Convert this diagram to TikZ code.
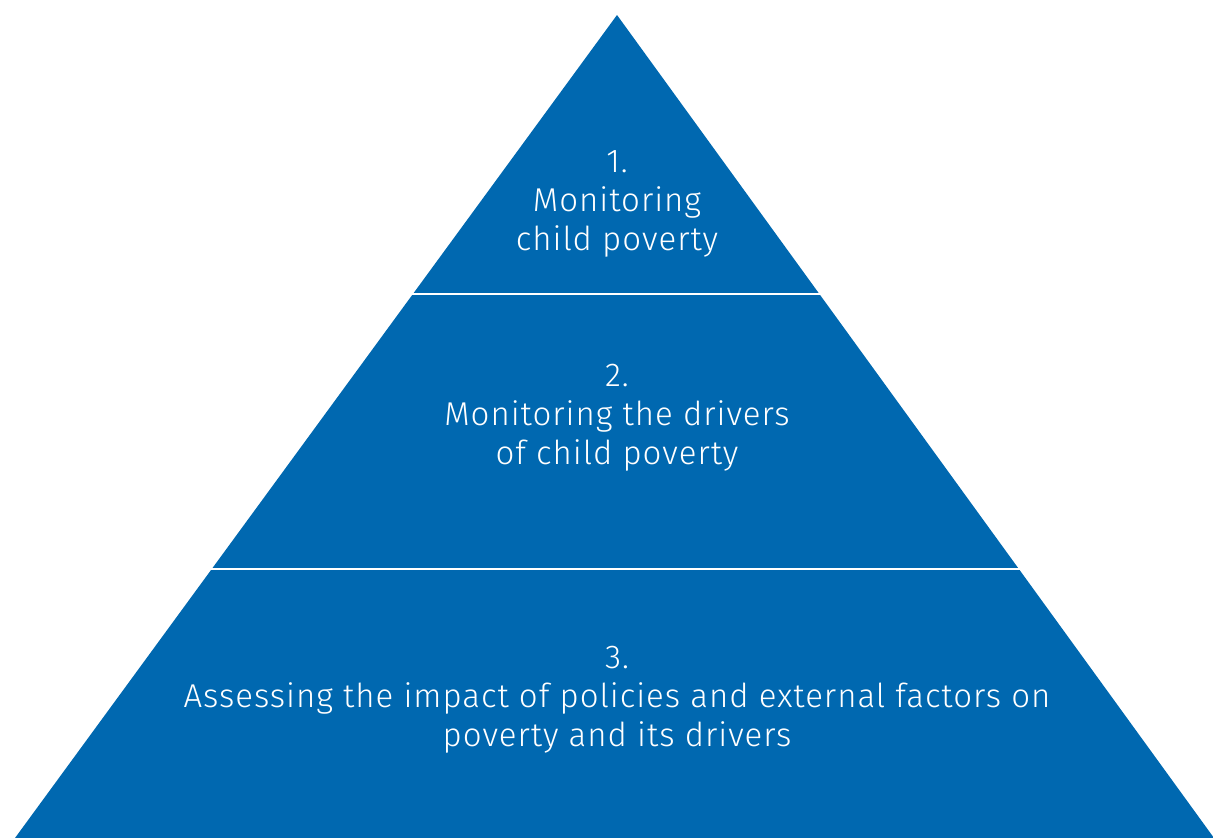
\documentclass[tikz,border=0pt]{standalone}
\usepackage{fontspec}
\setmainfont{Fira Sans Light}[LetterSpace=3]
\definecolor{pyrblue}{RGB}{0,104,176}
\begin{document}
\begin{tikzpicture}[x=1pt,y=-1pt,
  lvl/.style={text=white,align=center,font=\fontsize{33}{39}\selectfont}]
\useasboundingbox (0,0) rectangle (1213,838);
\coordinate (apex) at (617,15);
\coordinate (bl) at (15,838);
\coordinate (br) at (1214,838);
\fill[pyrblue] (apex) -- (br) -- (bl) -- cycle;
\coordinate (s1l) at (405,294);
\coordinate (s1r) at (830,294);
\coordinate (s2l) at (200,569);
\coordinate (s2r) at (1030,569);
\draw[white,line width=2.5pt] (s1l) -- (s1r);
\draw[white,line width=2.5pt] (s2l) -- (s2r);
\node[lvl] (t1) at (617,204) {1.\\Monitoring\\child poverty};
\node[lvl] (t2) at (617,418) {2.\\Monitoring the drivers\\of child poverty};
\node[lvl] (t3) at (617,700) {3.\\Assessing the impact of policies and external factors on\\poverty and its drivers};
\end{tikzpicture}
\end{document}
